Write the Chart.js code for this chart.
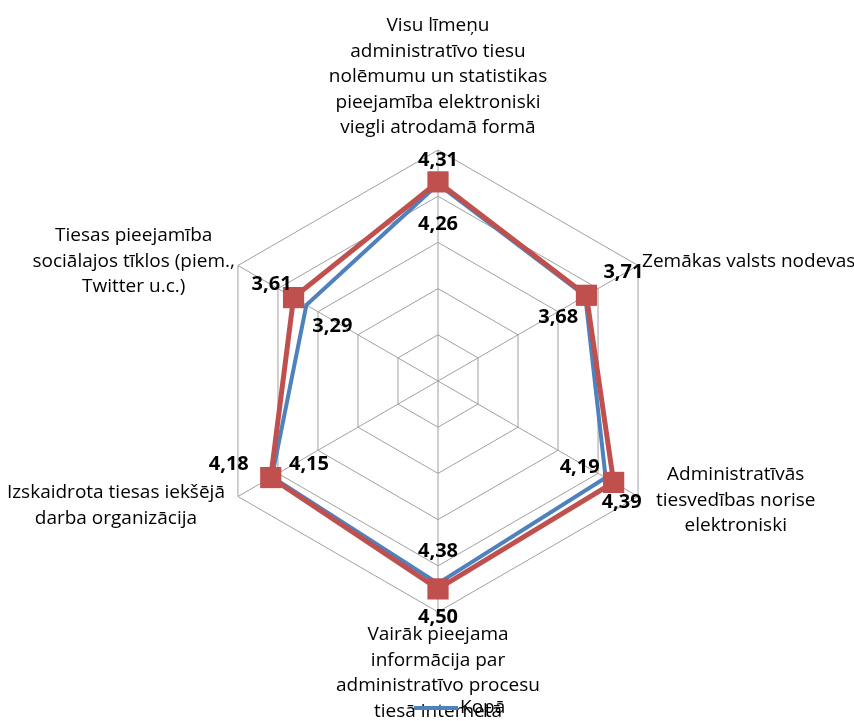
<!DOCTYPE html>
<html>
<head>
<meta charset="utf-8">
<script src="https://cdn.jsdelivr.net/npm/chart.js@4/dist/chart.umd.min.js"></script>
<style>
  html, body { margin: 0; padding: 0; background: #fff; }
  #wrap { width: 854px; height: 721px; position: relative; }
</style>
</head>
<body>
<div id="wrap"><canvas id="myChart"></canvas></div>
<script>
const categories = [
  ["Visu līmeņu", "administratīvo tiesu", "nolēmumu un statistikas", "pieejamība elektroniski", "viegli atrodamā formā"],
  ["Zemākas valsts nodevas"],
  ["Administratīvās", "tiesvedības norise", "elektroniski"],
  ["Vairāk pieejama", "informācija par", "administratīvo procesu", "tiesā internetā"],
  ["Izskaidrota tiesas iekšējā", "darba organizācija"],
  ["Tiesas pieejamība", "sociālajos tīklos (piem.,", "Twitter u.c.)"]
];
const kopaValues = [4.26, 3.68, 4.19, 4.38, 4.15, 3.29];
const secondValues = [4.31, 3.71, 4.39, 4.50, 4.18, 3.61];
const seriesNames = ["Kopā", "2. grupa"];
const scaleMin = 0;
const scaleMax = 5;
const scaleStep = 1;

const blue = "#4F81BD";
const red = "#C0504D";
const labelFont = '19px "Open Sans", "DejaVu Sans", sans-serif';
const valueFont = 'bold 20px "Open Sans", "DejaVu Sans", sans-serif';
const lineH = 25.5;

// where each category block sits relative to its outer vertex
const labelLayout = [
  { x: "center", y: "bottom", dx: 0, dy: -22 },
  { x: "left", y: "middle", dx: 4, dy: -4 },
  { x: "left", y: "middle", dx: 18, dy: 4 },
  { x: "center", y: "top", dx: 0, dy: 23 },
  { x: "right", y: "middle", dx: -13, dy: 9 },
  { x: "right", y: "middle", dx: -3, dy: -4 }
];
// value label offsets from their points
const blueOffsets = [[0, 40], [-27, 21], [-26, -10], [0, -32], [37, -13], [26, 21]];
const redOffsets = [[0, -22], [37, -23], [8, 20], [0, 28], [-42, -13], [-22, -13]];

const fmt = v => v.toFixed(2).replace(".", ",");

const overlay = {
  id: "overlay",
  afterDatasetsDraw(chart) {
    const ctx = chart.ctx;
    const scale = chart.scales.r;
    ctx.save();

    // category labels
    ctx.font = labelFont;
    ctx.fillStyle = "#000";
    ctx.textBaseline = "middle";
    ctx.textAlign = "center";
    categories.forEach((lines, i) => {
      const p = scale.getPointPosition(i, scale.drawingArea);
      const lay = labelLayout[i];
      const w = Math.max(...lines.map(l => ctx.measureText(l).width));
      let cx = p.x + lay.dx;
      if (lay.x === "left") cx += w / 2;
      if (lay.x === "right") cx -= w / 2;
      let y0 = p.y + lay.dy;
      if (lay.y === "bottom") y0 -= (lines.length - 1) * lineH;
      if (lay.y === "middle") y0 -= (lines.length - 1) * lineH / 2;
      lines.forEach((l, k) => ctx.fillText(l, cx, y0 + k * lineH));
    });

    // value labels
    ctx.font = valueFont;
    [[0, blueOffsets], [1, redOffsets]].forEach(([di, offs]) => {
      const meta = chart.getDatasetMeta(di);
      const vals = chart.data.datasets[di].data;
      meta.data.forEach((pt, i) => {
        ctx.fillText(fmt(vals[i]), pt.x + offs[i][0], pt.y + offs[i][1]);
      });
    });

    // legend (only the first series is visible in the original)
    const ds = chart.data.datasets[0];
    ctx.strokeStyle = ds.borderColor;
    ctx.lineWidth = 4;
    ctx.beginPath();
    ctx.moveTo(414, 708);
    ctx.lineTo(458, 708);
    ctx.stroke();
    ctx.font = labelFont;
    ctx.textAlign = "left";
    ctx.fillText(ds.label, 460, 708);
    ctx.restore();
  }
};

new Chart(document.getElementById("myChart"), {
  type: "radar",
  data: {
    labels: categories,
    datasets: [
      {
        label: seriesNames[0],
        data: kopaValues,
        borderColor: blue,
        borderWidth: 4,
        pointRadius: 0,
        fill: false,
        order: 1
      },
      {
        label: seriesNames[1],
        data: secondValues,
        borderColor: red,
        backgroundColor: red,
        borderWidth: 5,
        pointStyle: "rect",
        pointRadius: 15,
        pointBorderWidth: 0,
        fill: false,
        order: 0
      }
    ]
  },
  options: {
    responsive: true,
    maintainAspectRatio: false,
    animation: false,
    layout: { padding: { left: 207, right: 185, top: 150, bottom: 109 } },
    plugins: { legend: { display: false }, tooltip: { enabled: false } },
    scales: {
      r: {
        min: scaleMin,
        max: scaleMax,
        ticks: { stepSize: scaleStep, display: false },
        grid: { color: "#a0a0a0", lineWidth: 1 },
        angleLines: { color: "#a0a0a0", lineWidth: 1 },
        pointLabels: { display: false }
      }
    }
  },
  plugins: [overlay]
});
</script>
</body>
</html>
